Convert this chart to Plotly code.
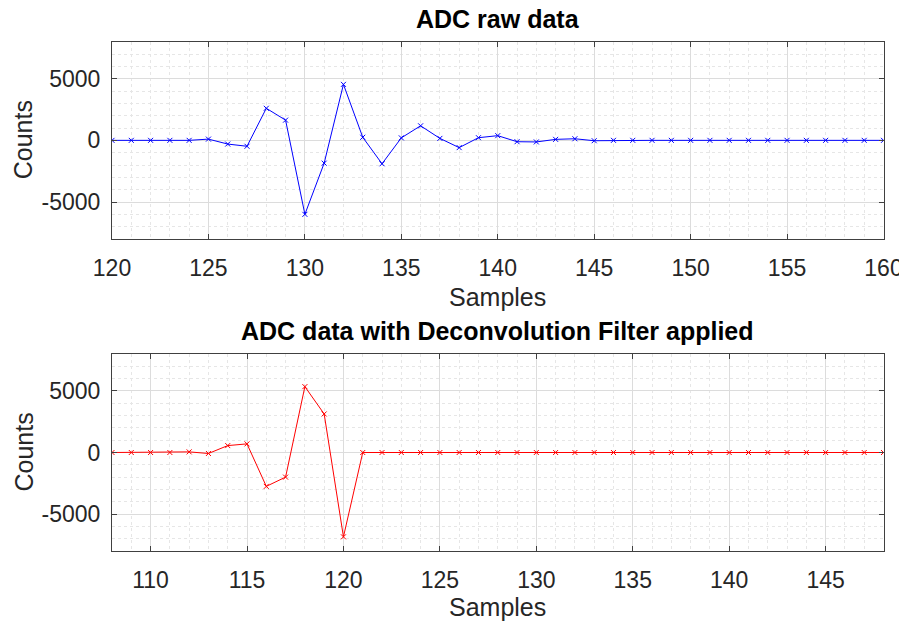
import plotly.graph_objects as go

# ---- data ----
raw_samples = list(range(120, 161))
raw_counts = [0, 0, 0, 0, 0, 100, -300, -480, 2600, 1640, -6000, -1850, 4540, 250,
              -1900, 200, 1180, 160, -590, 215, 380, -110, -130, 80, 130, -30,
              0, 0, 0, 0, 0, 0, 0, 0, 0, 0, 0, 0, 0, 0, 0]
dec_samples = list(range(108, 149))
dec_counts = [0, 0, 0, 0, 50, -80, 560, 700, -2750, -2000, 5350, 3130, -6850,
              0, 0, 0, 0, 0, 0, 0, 0, 0, 0, 0, 0, 0, 0, 0, 0, 0, 0, 0, 0, 0, 0, 0, 0, 0, 0, 0, 0]
raw_xticks = [120, 125, 130, 135, 140, 145, 150, 155, 160]
dec_xticks = [110, 115, 120, 125, 130, 135, 140, 145]
yticks = [-5000, 0, 5000]
ytick_labels = ["-5000", "0", "5000"]

title_top = "ADC raw data"
title_bot = "ADC data with Deconvolution Filter applied"
xlabel = "Samples"
ylabel = "Counts"

# page body has an 8px margin: figure is offset by 8px in the window
OFF = 8
W, H = 907 - OFF, 625 - OFF
FONT = "Liberation Sans, Arial, sans-serif"
TICK_C = "#262626"


def px(sx):
    return (sx - OFF) / W


def py(sy):
    return 1 - (sy - OFF) / H


fig = go.Figure()
fig.add_trace(go.Scatter(x=raw_samples, y=raw_counts, mode="lines+markers",
                         line=dict(color="#0000ff", width=1),
                         marker=dict(symbol="x-thin", size=5, line=dict(color="#0000ff", width=1)),
                         xaxis="x", yaxis="y", showlegend=False))
fig.add_trace(go.Scatter(x=dec_samples, y=dec_counts, mode="lines+markers",
                         line=dict(color="#ff0000", width=1),
                         marker=dict(symbol="x-thin", size=5, line=dict(color="#ff0000", width=1)),
                         xaxis="x2", yaxis="y2", showlegend=False))


def xax(rng, ticks, anchor):
    return dict(range=rng, tickvals=ticks, domain=[px(112), px(883.5)], anchor=anchor,
                automargin=False,
                showline=True, linecolor="#404040", linewidth=1, mirror="ticks",
                ticks="inside", ticklen=5, tickcolor="#404040",
                showgrid=True, gridcolor="#dcdcdc", gridwidth=1, zeroline=False,
                minor=dict(dtick=1, showgrid=True, gridcolor="#e6e6e6", griddash="dot", ticks=""),
                tickfont=dict(family=FONT, size=23, color=TICK_C), ticklabelstandoff=8)


def yax(top, bottom, anchor):
    return dict(range=[-8000, 8000], tickvals=yticks, ticktext=ytick_labels,
                domain=[py(bottom), py(top)], anchor=anchor,
                automargin=False,
                showline=True, linecolor="#404040", linewidth=1, mirror="ticks",
                ticks="inside", ticklen=5, tickcolor="#404040",
                showgrid=True, gridcolor="#dcdcdc", gridwidth=1, zeroline=False,
                minor=dict(dtick=1000, showgrid=True, gridcolor="#e6e6e6", griddash="dot", ticks=""),
                tickfont=dict(family=FONT, size=23, color=TICK_C), ticklabelstandoff=6)


fig.update_layout(
    width=W, height=H, autosize=False,
    margin=dict(l=0, r=0, t=0, b=0),
    paper_bgcolor="white", plot_bgcolor="white",
    xaxis=xax([120, 160], raw_xticks, "y"),
    yaxis=yax(41.7, 239, "x"),
    xaxis2=xax([108, 148], dec_xticks, "y2"),
    yaxis2=yax(354, 551, "x2"),
)

ann = []
cx = px((112 + 883.5) / 2)
ann.append(dict(text=f"<b>{title_top}</b>", x=cx, y=py(18.7), font=dict(family=FONT, size=25, color="black")))
ann.append(dict(text=f"<b>{title_bot}</b>", x=cx, y=py(330.7), font=dict(family=FONT, size=25, color="black")))
ann.append(dict(text=xlabel, x=cx, y=py(296.7), font=dict(family=FONT, size=25, color=TICK_C)))
ann.append(dict(text=xlabel, x=cx, y=py(607), font=dict(family=FONT, size=25, color=TICK_C)))
ann.append(dict(text=ylabel, x=px(23), y=py(140.3), textangle=-90, font=dict(family=FONT, size=25, color=TICK_C)))
ann.append(dict(text=ylabel, x=px(23), y=py(452.5), textangle=-90, font=dict(family=FONT, size=25, color=TICK_C)))
for a in ann:
    a.update(xref="paper", yref="paper", showarrow=False, xanchor="center", yanchor="middle")
fig.update_layout(annotations=ann)

fig.write_html("out.html")
